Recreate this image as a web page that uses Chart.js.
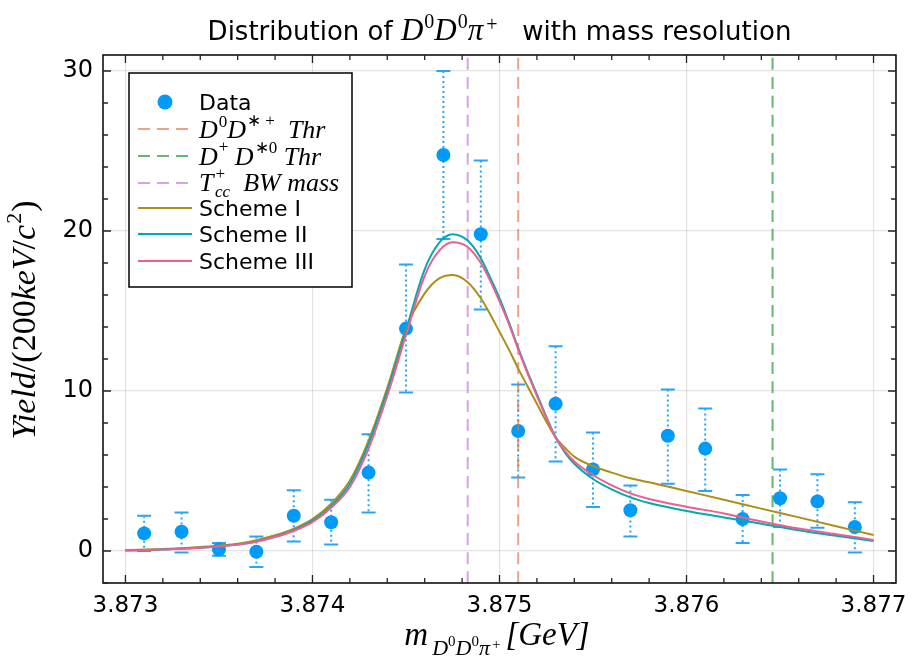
<!DOCTYPE html>
<html><head><meta charset="utf-8">
<script src="https://cdn.jsdelivr.net/npm/chart.js@4/dist/chart.umd.min.js"></script>
<style>html,body{margin:0;padding:0;background:#fff;}#wrap{position:relative;width:916px;height:658px;}</style>
</head><body><div id="wrap"><canvas id="c" width="916" height="658"></canvas></div>
<script>
// ---- data ----
const dataX  = [3.8731,3.8733,3.8735,3.8737,3.8739,3.8741,3.8743,3.8745,3.8747,3.8749,3.8751,3.8753,3.8755,3.8757,3.8759,3.8761,3.8763,3.8765,3.8767,3.8769];
const dataY  = [1.1,1.2,0.1,-0.05,2.2,1.8,4.9,13.9,24.75,19.8,7.5,9.2,5.1,2.55,7.2,6.4,2.0,3.3,3.1,1.5];
const errHi  = [2.2,2.4,0.5,0.9,3.8,3.2,7.3,17.9,30.0,24.4,10.4,12.8,7.4,4.1,10.1,8.9,3.5,5.1,4.8,3.05];
const errLo  = [0.0,-0.1,-0.3,-1.0,0.6,0.4,2.4,9.9,19.5,15.1,4.6,5.6,2.75,0.9,4.2,3.75,0.5,1.5,1.45,-0.1];
const curveX = [3.8730,3.8732,3.8734,3.8736,3.8737,3.8738,3.8739,3.8740,3.8741,3.8742,3.8743,3.8744,3.8745,3.8746,3.87468,3.87475,3.87483,3.87490,3.87495,3.8750,3.87505,3.8751,3.87515,3.8752,3.87525,3.8753,3.87535,3.8754,3.8755,3.8756,3.8757,3.8758,3.8760,3.8762,3.8764,3.8766,3.8768,3.8770];
const scheme1 = [0.05,0.12,0.25,0.45,0.68,0.98,1.4,2.0,2.95,4.4,6.9,10.2,13.9,16.1,17.05,17.25,16.8,15.8,14.8,13.7,12.6,11.4,10.3,9.2,8.1,7.1,6.45,5.9,5.3,4.9,4.55,4.3,3.75,3.2,2.65,2.1,1.55,1.0];
const scheme2 = [0.03,0.1,0.2,0.4,0.6,0.9,1.3,1.9,2.8,4.2,6.7,10.0,13.8,17.6,19.3,19.8,19.4,18.3,17.1,15.8,14.3,12.7,11.2,9.8,8.4,7.1,6.15,5.45,4.5,3.85,3.35,3.0,2.5,2.1,1.7,1.3,0.95,0.62];
const scheme3 = [0.03,0.1,0.2,0.4,0.58,0.87,1.25,1.8,2.7,4.0,6.4,9.7,13.5,17.2,18.8,19.3,19.0,18.0,16.9,15.6,14.2,12.6,11.1,9.7,8.35,7.1,6.25,5.6,4.75,4.1,3.6,3.25,2.77,2.35,1.85,1.4,1.05,0.69];
const thrD0Dstar  = 3.87510;
const thrDpDstar0 = 3.87646;
const tccMass     = 3.87483;
const xTicks = [3.873,3.874,3.875,3.876,3.877];
const yTicks = [0,10,20,30];
const X_MIN = 3.87288, X_MAX = 3.87712, Y_MIN = -2, Y_MAX = 31;

// ---- styles ----
const BLUE = 'rgb(0,154,250)';
const ERRC = 'rgb(40,165,248)';
const C_OR = 'rgba(227,111,71,0.65)';
const C_GR = 'rgba(62,164,78,0.8)';
const C_PU = 'rgba(195,113,210,0.65)';
const C_S1 = 'rgb(172,142,24)';
const C_S2 = 'rgb(0,170,174)';
const C_S3 = 'rgb(237,94,147)';
const SANS = '"DejaVu Sans"';
const SERIF = '"Liberation Serif"';

function pts(xs, ys){ return xs.map((x,i)=>({x:x,y:ys[i]})); }
function vline(x){ return [{x:x,y:Y_MIN},{x:x,y:Y_MAX}]; }

function richW(ctx, segs){ let w=0; for(const s of segs){ ctx.font=s.f; w+=ctx.measureText(s.t).width+(s.dx||0);} return w; }
function drawRich(ctx, segs, x, y){ for(const s of segs){ ctx.font=s.f; x+=(s.dx||0); ctx.fillText(s.t, x, y+(s.dy||0)); x+=ctx.measureText(s.t).width; } return x; }

const mI = (sz)=>'italic '+sz+'px '+SERIF;
const mR = (sz)=>sz+'px '+SERIF;

const decor = {
  id:'decor',
  beforeDatasetsDraw(chart){
    const ctx=chart.ctx, xs=chart.scales.x, ys=chart.scales.y, a=chart.chartArea;
    ctx.save();
    ctx.beginPath(); ctx.rect(a.left,a.top,a.right-a.left,a.bottom-a.top); ctx.clip();
    ctx.strokeStyle=ERRC; ctx.lineWidth=2;
    for(let i=0;i<dataX.length;i++){
      const px=xs.getPixelForValue(dataX[i]);
      const ph=ys.getPixelForValue(errHi[i]), pl=ys.getPixelForValue(errLo[i]);
      ctx.setLineDash([2,3]);
      ctx.beginPath(); ctx.moveTo(px,ph); ctx.lineTo(px,pl); ctx.stroke();
      ctx.setLineDash([]);
      ctx.beginPath(); ctx.moveTo(px-7,ph); ctx.lineTo(px+7,ph); ctx.moveTo(px-7,pl); ctx.lineTo(px+7,pl); ctx.stroke();
    }
    ctx.restore();
  },
  afterDraw(chart){
    const ctx=chart.ctx, xs=chart.scales.x, ys=chart.scales.y, a=chart.chartArea;
    ctx.save();
    ctx.strokeStyle='#000'; ctx.lineWidth=1.5; ctx.setLineDash([]);
    ctx.strokeRect(a.left,a.top,a.right-a.left,a.bottom-a.top);
    ctx.lineWidth=1.3; ctx.strokeStyle='#222';
    for(let k=0;k<xTicks.length;k++){
      for(let m=0;m<5;m++){
        if(k===xTicks.length-1 && m>0) break;
        const v = xTicks[k] + m*0.0002;
        const p = xs.getPixelForValue(v); const L = m===0?8:5;
        ctx.beginPath(); ctx.moveTo(p,a.bottom); ctx.lineTo(p,a.bottom-L); ctx.moveTo(p,a.top); ctx.lineTo(p,a.top+L); ctx.stroke();
      }
    }
    for(let v=Y_MIN; v<=Y_MAX; v+=2){
      const p = ys.getPixelForValue(v); const L = (v%10===0)?8:5;
      ctx.beginPath(); ctx.moveTo(a.left,p); ctx.lineTo(a.left+L,p); ctx.moveTo(a.right,p); ctx.lineTo(a.right-L,p); ctx.stroke();
    }
    ctx.fillStyle='#000'; ctx.textAlign='left'; ctx.textBaseline='alphabetic';
    // title
    const tSegs=[{t:'Distribution of ',f:'26px '+SANS},{t:'D',f:mI(31)},{t:'0',f:mR(20),dy:-12,dx:1},{t:'D',f:mI(31)},{t:'0',f:mR(20),dy:-12,dx:1},{t:'π',f:mI(31)},{t:'+',f:mR(20),dy:-9,dx:3},{t:'   with mass resolution',f:'26px '+SANS}];
    const cx=(a.left+a.right)/2;
    drawRich(ctx,tSegs,cx-richW(ctx,tSegs)/2,40);
    // x label
    const xSegs=[{t:'m',f:mI(33)},{t:'D',f:mI(22),dy:10,dx:4},{t:'0',f:mR(15),dy:1},{t:'D',f:mI(22),dy:10},{t:'0',f:mR(15),dy:1},{t:'π',f:mI(22),dy:10},{t:'+',f:mR(15),dy:4,dx:2},{t:'[GeV]',f:mI(33),dx:5}];
    drawRich(ctx,xSegs,497-richW(ctx,xSegs)/2,645);
    // y label
    ctx.save(); ctx.translate(35,320); ctx.rotate(-Math.PI/2);
    const ySegs=[{t:'Yield',f:mI(34)},{t:'/(200',f:mR(34)},{t:'keV',f:mI(34)},{t:'/',f:mR(34)},{t:'c',f:mI(34)},{t:'2',f:mR(22),dy:-14,dx:1},{t:')',f:mR(34),dx:1}];
    drawRich(ctx,ySegs,-richW(ctx,ySegs)/2,0);
    ctx.restore();
    // legend
    const L0=129, T0=73, R0=352, B0=287;
    ctx.fillStyle='#fff'; ctx.fillRect(L0,T0,R0-L0,B0-T0);
    ctx.strokeStyle='#000'; ctx.lineWidth=1.5; ctx.strokeRect(L0,T0,R0-L0,B0-T0);
    const rows=[102,129,156,183,208,234,261];
    ctx.fillStyle=BLUE; ctx.beginPath(); ctx.arc(165,rows[0],7.5,0,Math.PI*2); ctx.fill();
    const lines=[[C_OR,true],[C_GR,true],[C_PU,true],[C_S1,false],[C_S2,false],[C_S3,false]];
    lines.forEach((l,i)=>{ ctx.strokeStyle=l[0]; ctx.lineWidth=2; ctx.setLineDash(l[1]?[12,7]:[]); ctx.beginPath(); ctx.moveTo(138,rows[i+1]); ctx.lineTo(192,rows[i+1]); ctx.stroke(); });
    ctx.setLineDash([]);
    ctx.fillStyle='#000';
    const tx=199, off=8;
    ctx.font='22px '+SANS; ctx.fillText('Data',tx,rows[0]+off);
    drawRich(ctx,[{t:'D',f:mI(26)},{t:'0',f:mR(17),dy:-11,dx:1},{t:'D',f:mI(26)},{t:'∗ +',f:mR(17),dy:-12,dx:1},{t:'  Thr',f:mI(26)}],tx,rows[1]+off+1);
    drawRich(ctx,[{t:'D',f:mI(26)},{t:'+',f:mR(17),dy:-13,dx:1},{t:' D',f:mI(26)},{t:'∗0',f:mR(17),dy:-12,dx:1},{t:' Thr',f:mI(26)}],tx,rows[2]+off+1);
    drawRich(ctx,[{t:'T',f:mI(26)},{t:'+',f:mR(17),dy:-12,dx:2},{t:'cc',f:mI(17),dy:6,dx:-10},{t:'  BW mass',f:mI(26)}],tx,rows[3]+off);
    ctx.font='22px '+SANS;
    ctx.fillText('Scheme I',tx,rows[4]+off);
    ctx.fillText('Scheme II',tx,rows[5]+off);
    ctx.fillText('Scheme III',tx,rows[6]+off);
    ctx.restore();
  }
};

const lineDs=(label,d,c,ord,dash)=>({type:'line',label:label,data:d,borderColor:c,borderWidth:2,pointRadius:0,fill:false,order:ord,borderDash:dash||[],cubicInterpolationMode:'monotone',clip:0});

new Chart(document.getElementById('c'),{
  type:'scatter',
  data:{datasets:[
    lineDs('Scheme III',pts(curveX,scheme3),C_S3,0),
    lineDs('Scheme II',pts(curveX,scheme2),C_S2,1),
    lineDs('Scheme I',pts(curveX,scheme1),C_S1,2),
    lineDs('Tcc BW mass',vline(tccMass),C_PU,3,[12,7]),
    lineDs('D+D*0 Thr',vline(thrDpDstar0),C_GR,4,[12,7]),
    lineDs('D0D*+ Thr',vline(thrD0Dstar),C_OR,5,[12,7]),
    {type:'scatter',label:'Data',data:pts(dataX,dataY),backgroundColor:BLUE,borderWidth:0,pointRadius:7,order:6}
  ]},
  options:{
    responsive:false,animation:false,
    layout:{padding:{left:0,right:19,top:55,bottom:0}},
    plugins:{legend:{display:false},tooltip:{enabled:false},title:{display:false}},
    scales:{
      x:{type:'linear',min:X_MIN,max:X_MAX,
        afterBuildTicks:(s)=>{s.ticks=xTicks.map(v=>({value:v}));},
        afterFit:(s)=>{s.height=75;},
        grid:{color:'rgba(0,0,0,0.11)',lineWidth:1.2,drawTicks:false},border:{display:false},
        ticks:{padding:9,color:'#000',font:{family:'DejaVu Sans',size:23},callback:(v)=>Number(v).toFixed(3),maxRotation:0}},
      y:{type:'linear',min:Y_MIN,max:Y_MAX,
        afterBuildTicks:(s)=>{s.ticks=yTicks.map(v=>({value:v}));},
        afterFit:(s)=>{s.width=103;},
        grid:{color:'rgba(0,0,0,0.11)',lineWidth:1.2,drawTicks:false},border:{display:false},
        ticks:{padding:10,color:'#000',font:{family:'DejaVu Sans',size:24}}}
    }
  },
  plugins:[decor]
});
</script></body></html>
